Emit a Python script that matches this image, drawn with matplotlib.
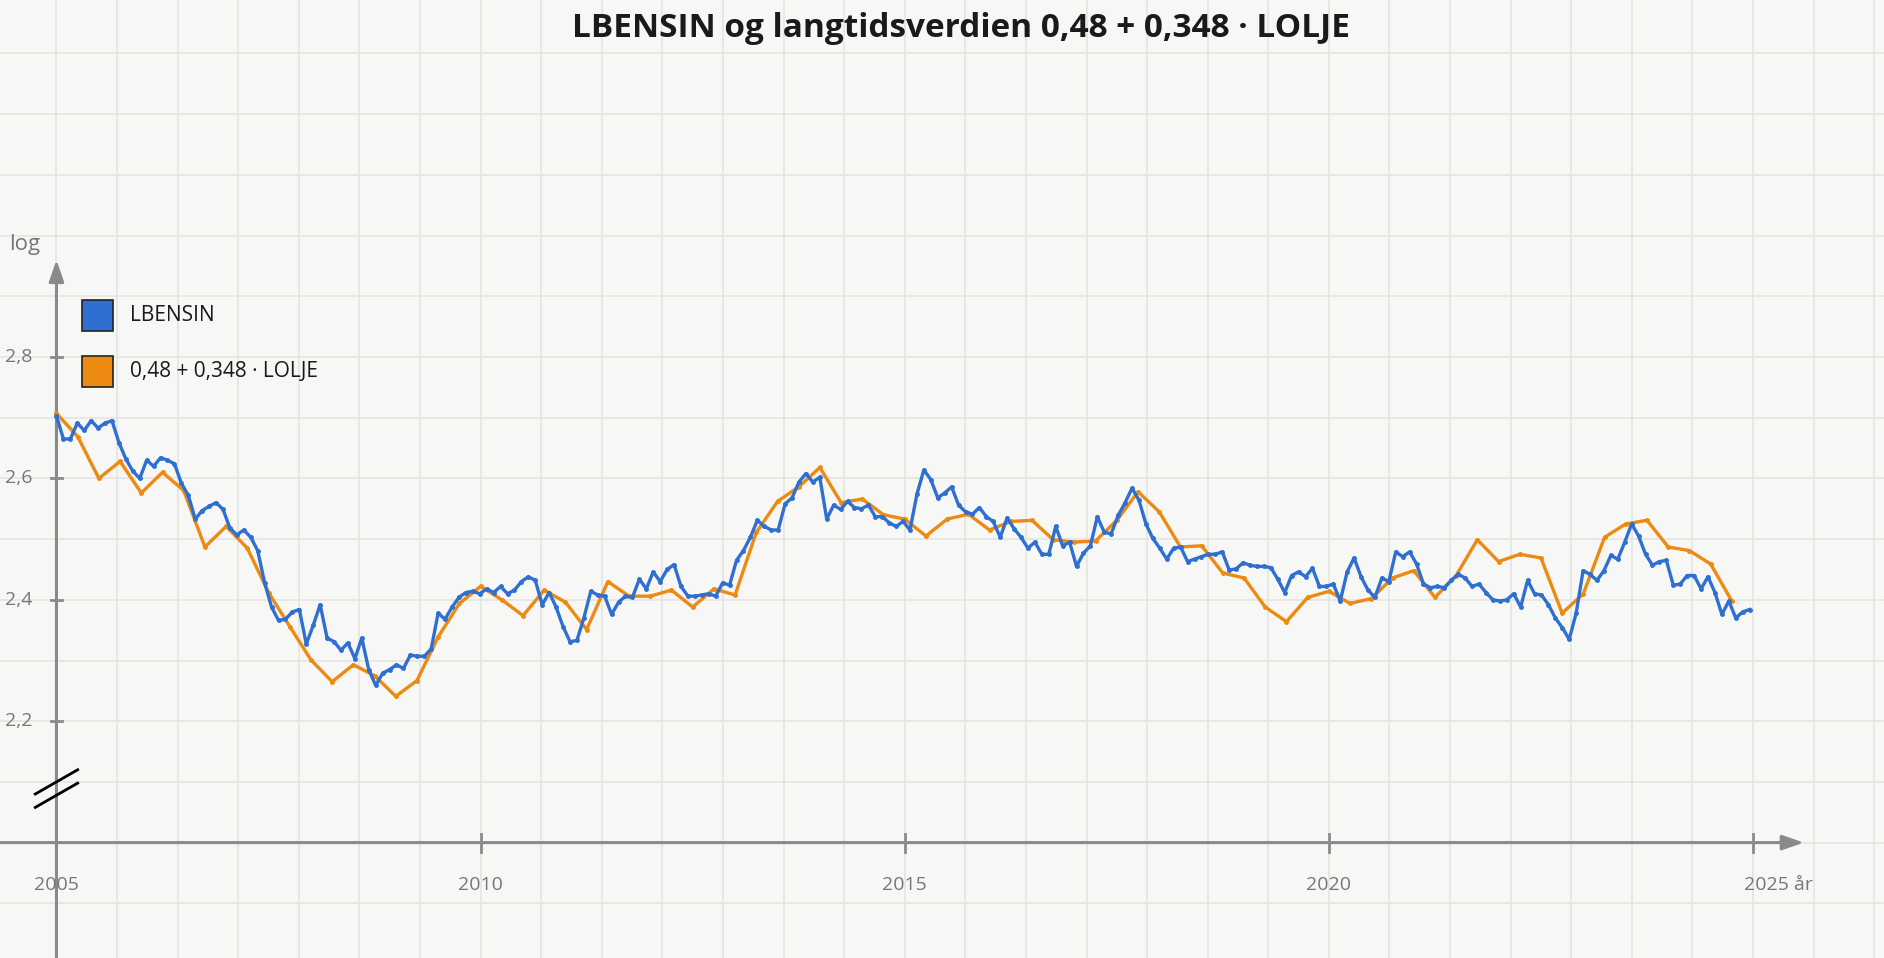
import numpy as np
import matplotlib
matplotlib.use("Agg")
import matplotlib.pyplot as plt
from matplotlib.patches import Rectangle

plt.rcParams['font.family'] = ['Open Sans', 'DejaVu Sans']

title = "LBENSIN og langtidsverdien 0,48 + 0,348 · LOLJE"
series_names = ["LBENSIN", "0,48 + 0,348 · LOLJE"]
start_year = 2005
end_blue = 2024.96
# monthly values from Jan 2005
lbensin = [2.703,2.665,2.665,2.691,2.679,2.695,2.683,2.691,2.695,2.659,2.632,2.612,2.6,2.63,2.62,2.634,2.63,2.624,
 2.592,2.572,2.533,2.547,2.554,2.56,2.549,2.518,2.507,2.515,2.503,2.481,2.428,2.388,2.366,2.368,2.38,2.384,2.327,2.358,
 2.392,2.337,2.331,2.317,2.329,2.303,2.337,2.285,2.259,2.279,2.285,2.293,2.287,2.309,2.307,2.307,2.319,2.378,2.368,2.388,
 2.404,2.412,2.414,2.41,2.418,2.412,2.422,2.41,2.416,2.43,2.438,2.432,2.392,2.412,2.388,2.356,2.331,2.333,2.37,2.414,
 2.408,2.406,2.376,2.396,2.406,2.404,2.434,2.418,2.446,2.43,2.45,2.458,2.422,2.406,2.406,2.408,2.41,2.406,2.428,2.424,
 2.465,2.481,2.503,2.531,2.521,2.515,2.515,2.558,2.568,2.594,2.608,2.594,2.602,2.533,2.556,2.549,2.562,2.552,2.55,2.556,
 2.537,2.537,2.527,2.521,2.529,2.515,2.574,2.614,2.598,2.568,2.576,2.586,2.556,2.545,2.541,2.552,2.537,2.529,2.503,2.535,
 2.517,2.503,2.485,2.495,2.475,2.475,2.521,2.489,2.495,2.455,2.477,2.489,2.537,2.511,2.509,2.539,2.56,2.584,2.564,2.525,
 2.501,2.485,2.467,2.485,2.487,2.463,2.467,2.471,2.475,2.475,2.479,2.449,2.451,2.461,2.457,2.455,2.455,2.453,2.434,2.412,
 2.44,2.446,2.438,2.452,2.422,2.422,2.426,2.398,2.446,2.469,2.438,2.416,2.404,2.436,2.43,2.479,2.471,2.479,2.459,2.426,
 2.42,2.422,2.42,2.432,2.442,2.436,2.422,2.426,2.412,2.4,2.398,2.4,2.41,2.388,2.432,2.41,2.408,2.392,2.37,2.354,2.335,
 2.378,2.448,2.442,2.432,2.448,2.473,2.467,2.495,2.525,2.505,2.475,2.457,2.463,2.465,2.424,2.426,2.44,2.44,2.418,2.438,
 2.412,2.376,2.398,2.37,2.38,2.384]
# quarterly values from Q1 2005
langtid = [2.707,2.669,2.6,2.628,2.576,2.61,2.58,2.487,2.521,2.485,2.412,2.356,2.301,2.265,2.293,2.275,2.241,2.267,2.339,
 2.394,2.422,2.4,2.374,2.416,2.396,2.351,2.43,2.406,2.406,2.416,2.388,2.418,2.408,2.511,2.562,2.586,2.618,2.56,2.566,2.54,
 2.533,2.505,2.533,2.541,2.515,2.529,2.531,2.499,2.495,2.497,2.531,2.578,2.545,2.487,2.489,2.444,2.436,2.388,2.364,2.404,
 2.414,2.394,2.402,2.436,2.448,2.404,2.44,2.499,2.463,2.475,2.469,2.378,2.41,2.503,2.525,2.531,2.487,2.481,2.459,2.398]
yticks = [2.2, 2.4, 2.6, 2.8]
xticks = [2005, 2010, 2015, 2020, 2025]

bg = "#f7f7f5"
blue = "#2f6fd1"
orange = "#ec8a12"
axc = "#8a8a8a"

fig = plt.figure(figsize=(18.84, 9.58), dpi=100, facecolor=bg)
ax = fig.add_axes([0, 0, 1, 1], facecolor=bg)
x0 = 2005 - 47/70.6
ax.set_xlim(x0, x0 + 1568/70.6)
ax.set_ylim(2.0 - 96/505, 2.0 + 701/505)
for s in ax.spines.values():
    s.set_visible(False)
ax.set_xticks([]); ax.set_yticks([])

# grid
for gy in np.arange(1.8, 3.4, 0.1):
    ax.axhline(gy, color="#e4e4e0", lw=1.2, zorder=0)
for gx in 2005 + np.arange(-1, 31) * 5/7:
    ax.axvline(gx, color="#e4e4e0", lw=1.2, zorder=0)

# axes with arrows
ax.annotate("", xy=(2005, 2.96), xytext=(2005, 1.81),
            arrowprops=dict(arrowstyle="-|>,head_width=0.45,head_length=1.3", color=axc, lw=2.2,
                            shrinkA=0, shrinkB=0), zorder=2)
ax.annotate("", xy=(2025.6, 2.0), xytext=(x0, 2.0),
            arrowprops=dict(arrowstyle="-|>,head_width=0.45,head_length=1.3", color=axc, lw=2.2,
                            shrinkA=0, shrinkB=0), zorder=2)
# break marks
for dy in (0.0, 0.022):
    ax.plot([2004.75, 2005.25], [2.078 + dy - 0.02, 2.078 + dy + 0.02], color="black", lw=2, zorder=3)

for t in yticks:
    ax.plot([2004.93, 2005.07], [t, t], color=axc, lw=2, zorder=2)
    ax.text(2004.55, t, f"{t:.1f}".replace(".", ","), ha="center", va="center", fontsize=14, color="#777777")
for t in xticks:
    ax.plot([t, t], [1.985, 2.015], color=axc, lw=2, zorder=2)
    lab = f"{t}" if t != 2025 else "2025 år"
    ax.text(t if t != 2025 else t + 0.3, 1.93, lab, ha="center", va="center", fontsize=14, color="#777777")
ax.text(2004.63, 2.985, "log", ha="center", va="center", fontsize=16, color="#777777")

xb = np.linspace(start_year, end_blue, len(lbensin))
xo = start_year + np.arange(len(langtid)) / 4
ax.plot(xo, langtid, color=orange, lw=2.4, marker="o", ms=2.5, zorder=4)
ax.plot(xb, lbensin, color=blue, lw=2.4, marker="o", ms=2.5, zorder=5)

fig.text(0.51, 0.97, title, ha="center", va="center", fontsize=24, fontweight="bold", color="#1a1a1a")

for i, (name, c) in enumerate(zip(series_names, [blue, orange])):
    yc = 0.671 - i * 0.059
    fig.patches.append(Rectangle((0.0437, yc - 0.0163), 0.0163, 0.0326, transform=fig.transFigure,
                                 facecolor=c, edgecolor="#222222", lw=1.2))
    fig.text(0.069, yc, name, ha="left", va="center", fontsize=15, color="#1a1a1a")

fig.savefig("out.png", dpi=100, facecolor=bg)
